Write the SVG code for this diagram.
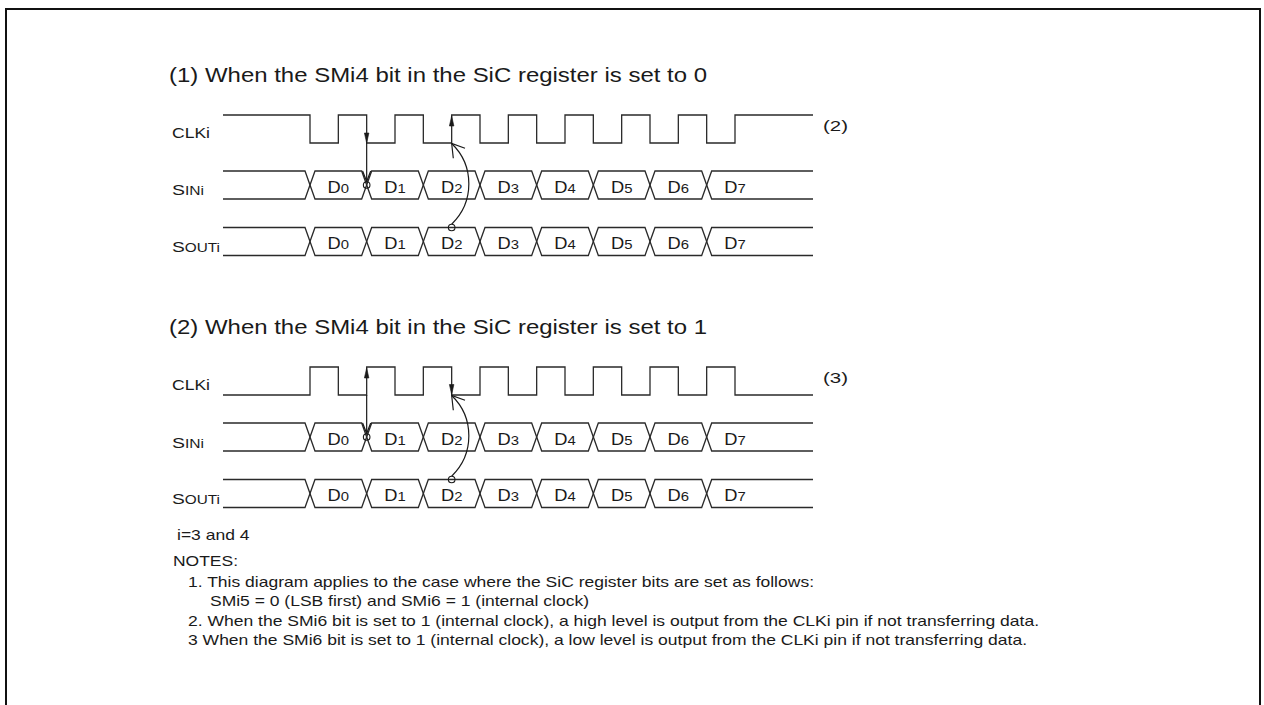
<svg xmlns="http://www.w3.org/2000/svg" width="1264" height="705" viewBox="0 0 1264 705">
<style>
  text { font-family: "Liberation Sans", Arial, sans-serif; fill: #1a1a1a; }
  .title { font-size: 21px; }
  .lbl { font-size: 14.5px; }
  .big { font-size: 15px; }
  .sm { font-size: 12px; }
  .d { font-size: 16px; }
  .dn { font-size: 13px; }
  .note { font-size: 15px; }
  .wave { fill: none; stroke: #2a2a2a; stroke-width: 1.3; stroke-linejoin: miter; }
  .conn { fill: none; stroke: #1a1a1a; stroke-width: 1.2; }
  .head { fill: #1a1a1a; stroke: #1a1a1a; stroke-width: 0.6; }
  .dot { fill: none; stroke: #1a1a1a; stroke-width: 1.1; }
  .border { fill: none; stroke: #111; stroke-width: 2; }
</style>

<path class="border" d="M6,705 V9 H1260 V705"/>

<!-- Part 1 -->
<g id="part1">
  <text class="title" x="169" y="82" textLength="538" lengthAdjust="spacingAndGlyphs">(1) When the SMi4 bit in the SiC register is set to 0</text>

  <g id="p1-clk">
    <text class="lbl" x="172" y="138" textLength="38" lengthAdjust="spacingAndGlyphs">CLKi</text>
    <path class="wave" d="M223,115 H310 V143 H338.33 V115 H366.67 V143 H395 V115 H423.33 V143 H451.67 V115 H480 V143 H508.33 V115 H536.67 V143 H565 V115 H593.33 V143 H621.67 V115 H650 V143 H678.33 V115 H706.67 V143 H735 V115 H813"/>
    <text class="lbl" x="823" y="131" textLength="25" lengthAdjust="spacingAndGlyphs">(2)</text>
  </g>

  <g id="p1-sin">
    <text class="big" x="172" y="195" textLength="32" lengthAdjust="spacingAndGlyphs">S<tspan class="sm">INi</tspan></text>
    <path class="wave" d="M223,171 H305 L315,199 H361.67 L371.67,171 H418.33 L428.33,199 H475 L485,171 H531.67 L541.67,199 H588.33 L598.33,171 H645 L655,199 H701.67 L711.67,171 H813"/>
    <path class="wave" d="M223,199 H305 L315,171 H361.67 L371.67,199 H418.33 L428.33,171 H475 L485,199 H531.67 L541.67,171 H588.33 L598.33,199 H645 L655,171 H701.67 L711.67,199 H813"/>
    <g class="d" text-anchor="middle">
      <text x="338.33" y="192.5" textLength="21.5" lengthAdjust="spacingAndGlyphs">D<tspan class="dn">0</tspan></text>
      <text x="395" y="192.5" textLength="21.5" lengthAdjust="spacingAndGlyphs">D<tspan class="dn">1</tspan></text>
      <text x="451.67" y="192.5" textLength="21.5" lengthAdjust="spacingAndGlyphs">D<tspan class="dn">2</tspan></text>
      <text x="508.33" y="192.5" textLength="21.5" lengthAdjust="spacingAndGlyphs">D<tspan class="dn">3</tspan></text>
      <text x="565" y="192.5" textLength="21.5" lengthAdjust="spacingAndGlyphs">D<tspan class="dn">4</tspan></text>
      <text x="621.67" y="192.5" textLength="21.5" lengthAdjust="spacingAndGlyphs">D<tspan class="dn">5</tspan></text>
      <text x="678.33" y="192.5" textLength="21.5" lengthAdjust="spacingAndGlyphs">D<tspan class="dn">6</tspan></text>
      <text x="735" y="192.5" textLength="21.5" lengthAdjust="spacingAndGlyphs">D<tspan class="dn">7</tspan></text>
    </g>
  </g>

  <g id="p1-sout">
    <text class="big" x="172" y="251.5" textLength="48" lengthAdjust="spacingAndGlyphs">S<tspan class="sm">OUTi</tspan></text>
    <path class="wave" d="M223,227.5 H305 L315,255.5 H361.67 L371.67,227.5 H418.33 L428.33,255.5 H475 L485,227.5 H531.67 L541.67,255.5 H588.33 L598.33,227.5 H645 L655,255.5 H701.67 L711.67,227.5 H813"/>
    <path class="wave" d="M223,255.5 H305 L315,227.5 H361.67 L371.67,255.5 H418.33 L428.33,227.5 H475 L485,255.5 H531.67 L541.67,227.5 H588.33 L598.33,255.5 H645 L655,227.5 H701.67 L711.67,255.5 H813"/>
    <g class="d" text-anchor="middle">
      <text x="338.33" y="249" textLength="21.5" lengthAdjust="spacingAndGlyphs">D<tspan class="dn">0</tspan></text>
      <text x="395" y="249" textLength="21.5" lengthAdjust="spacingAndGlyphs">D<tspan class="dn">1</tspan></text>
      <text x="451.67" y="249" textLength="21.5" lengthAdjust="spacingAndGlyphs">D<tspan class="dn">2</tspan></text>
      <text x="508.33" y="249" textLength="21.5" lengthAdjust="spacingAndGlyphs">D<tspan class="dn">3</tspan></text>
      <text x="565" y="249" textLength="21.5" lengthAdjust="spacingAndGlyphs">D<tspan class="dn">4</tspan></text>
      <text x="621.67" y="249" textLength="21.5" lengthAdjust="spacingAndGlyphs">D<tspan class="dn">5</tspan></text>
      <text x="678.33" y="249" textLength="21.5" lengthAdjust="spacingAndGlyphs">D<tspan class="dn">6</tspan></text>
      <text x="735" y="249" textLength="21.5" lengthAdjust="spacingAndGlyphs">D<tspan class="dn">7</tspan></text>
    </g>
  </g>
</g>

<!-- Part 2 -->
<g id="part2">
  <text class="title" x="169" y="334" textLength="538" lengthAdjust="spacingAndGlyphs">(2) When the SMi4 bit in the SiC register is set to 1</text>

  <g id="p2-clk">
    <text class="lbl" x="172" y="390" textLength="38" lengthAdjust="spacingAndGlyphs">CLKi</text>
    <path class="wave" d="M223,395 H310 V367 H338.33 V395 H366.67 V367 H395 V395 H423.33 V367 H451.67 V395 H480 V367 H508.33 V395 H536.67 V367 H565 V395 H593.33 V367 H621.67 V395 H650 V367 H678.33 V395 H706.67 V367 H735 V395 H813"/>
    <text class="lbl" x="823" y="383" textLength="25" lengthAdjust="spacingAndGlyphs">(3)</text>
  </g>

  <g id="p2-sin">
    <text class="big" x="172" y="447.5" textLength="32" lengthAdjust="spacingAndGlyphs">S<tspan class="sm">INi</tspan></text>
    <path class="wave" d="M223,423 H305 L315,451 H361.67 L371.67,423 H418.33 L428.33,451 H475 L485,423 H531.67 L541.67,451 H588.33 L598.33,423 H645 L655,451 H701.67 L711.67,423 H813"/>
    <path class="wave" d="M223,451 H305 L315,423 H361.67 L371.67,451 H418.33 L428.33,423 H475 L485,451 H531.67 L541.67,423 H588.33 L598.33,451 H645 L655,423 H701.67 L711.67,451 H813"/>
    <g class="d" text-anchor="middle">
      <text x="338.33" y="444.5" textLength="21.5" lengthAdjust="spacingAndGlyphs">D<tspan class="dn">0</tspan></text>
      <text x="395" y="444.5" textLength="21.5" lengthAdjust="spacingAndGlyphs">D<tspan class="dn">1</tspan></text>
      <text x="451.67" y="444.5" textLength="21.5" lengthAdjust="spacingAndGlyphs">D<tspan class="dn">2</tspan></text>
      <text x="508.33" y="444.5" textLength="21.5" lengthAdjust="spacingAndGlyphs">D<tspan class="dn">3</tspan></text>
      <text x="565" y="444.5" textLength="21.5" lengthAdjust="spacingAndGlyphs">D<tspan class="dn">4</tspan></text>
      <text x="621.67" y="444.5" textLength="21.5" lengthAdjust="spacingAndGlyphs">D<tspan class="dn">5</tspan></text>
      <text x="678.33" y="444.5" textLength="21.5" lengthAdjust="spacingAndGlyphs">D<tspan class="dn">6</tspan></text>
      <text x="735" y="444.5" textLength="21.5" lengthAdjust="spacingAndGlyphs">D<tspan class="dn">7</tspan></text>
    </g>
  </g>

  <g id="p2-sout">
    <text class="big" x="172" y="504" textLength="48" lengthAdjust="spacingAndGlyphs">S<tspan class="sm">OUTi</tspan></text>
    <path class="wave" d="M223,479.5 H305 L315,507.5 H361.67 L371.67,479.5 H418.33 L428.33,507.5 H475 L485,479.5 H531.67 L541.67,507.5 H588.33 L598.33,479.5 H645 L655,507.5 H701.67 L711.67,479.5 H813"/>
    <path class="wave" d="M223,507.5 H305 L315,479.5 H361.67 L371.67,507.5 H418.33 L428.33,479.5 H475 L485,507.5 H531.67 L541.67,479.5 H588.33 L598.33,507.5 H645 L655,479.5 H701.67 L711.67,507.5 H813"/>
    <g class="d" text-anchor="middle">
      <text x="338.33" y="501" textLength="21.5" lengthAdjust="spacingAndGlyphs">D<tspan class="dn">0</tspan></text>
      <text x="395" y="501" textLength="21.5" lengthAdjust="spacingAndGlyphs">D<tspan class="dn">1</tspan></text>
      <text x="451.67" y="501" textLength="21.5" lengthAdjust="spacingAndGlyphs">D<tspan class="dn">2</tspan></text>
      <text x="508.33" y="501" textLength="21.5" lengthAdjust="spacingAndGlyphs">D<tspan class="dn">3</tspan></text>
      <text x="565" y="501" textLength="21.5" lengthAdjust="spacingAndGlyphs">D<tspan class="dn">4</tspan></text>
      <text x="621.67" y="501" textLength="21.5" lengthAdjust="spacingAndGlyphs">D<tspan class="dn">5</tspan></text>
      <text x="678.33" y="501" textLength="21.5" lengthAdjust="spacingAndGlyphs">D<tspan class="dn">6</tspan></text>
      <text x="735" y="501" textLength="21.5" lengthAdjust="spacingAndGlyphs">D<tspan class="dn">7</tspan></text>
    </g>
  </g>
</g>

<!-- Connectors -->
<g id="connectors">
  <!-- part 1 -->
  <polygon class="head" points="366.67,143 364.4,133 368.9,133"/>
  <path class="conn" d="M366.67,143 V181.5"/>
  <polyline class="conn" points="362.6,171 366.67,181.5 370.7,171"/>
  <circle class="dot" cx="366.67" cy="185" r="3.3"/>
  <polygon class="head" points="451.67,116 449.4,126 453.9,126"/>
  <circle class="dot" cx="451.67" cy="227.5" r="3.3"/>
  <path class="conn" d="M451.67,224.2 A56,56 0 0 0 451.67,143.5"/>
  <polyline class="conn" points="453.3,158.3 451.67,143.5 465,148.3"/>
  <!-- part 2 -->
  <polygon class="head" points="366.67,368 364.4,378 368.9,378"/>
  <path class="conn" d="M366.67,395 V433.5"/>
  <polyline class="conn" points="362.6,423 366.67,433.5 370.7,423"/>
  <circle class="dot" cx="366.67" cy="437" r="3.3"/>
  <polygon class="head" points="451.67,394.5 449.4,384.5 453.9,384.5"/>
  <circle class="dot" cx="451.67" cy="479.5" r="3.3"/>
  <path class="conn" d="M451.67,476.2 A56,56 0 0 0 451.67,395.5"/>
  <polyline class="conn" points="453.3,410.3 451.67,395.5 465,400.3"/>
</g>

<!-- Notes -->
<g id="notes">
  <text class="note" x="177" y="540" textLength="72.5" lengthAdjust="spacingAndGlyphs">i=3 and 4</text>
  <text class="note" x="173" y="566" textLength="65" lengthAdjust="spacingAndGlyphs">NOTES:</text>
  <text class="note" x="188" y="587" textLength="626" lengthAdjust="spacingAndGlyphs">1. This diagram applies to the case where the SiC register bits are set as follows:</text>
  <text class="note" x="210" y="606" textLength="379" lengthAdjust="spacingAndGlyphs">SMi5 = 0 (LSB first) and SMi6 = 1 (internal clock)</text>
  <text class="note" x="188" y="626" textLength="851" lengthAdjust="spacingAndGlyphs">2. When the SMi6 bit is set to 1 (internal clock), a high level is output from the CLKi pin if not transferring data.</text>
  <text class="note" x="188" y="645" textLength="839" lengthAdjust="spacingAndGlyphs">3 When the SMi6 bit is set to 1 (internal clock), a low level is output from the CLKi pin if not transferring data.</text>
</g>
</svg>
